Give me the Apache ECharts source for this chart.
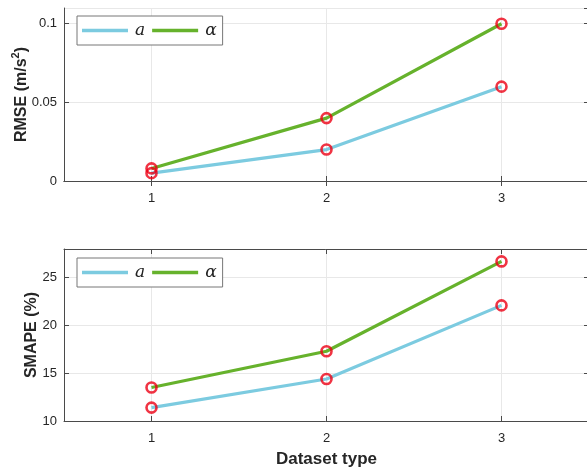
<!DOCTYPE html>
<html>
<head>
<meta charset="utf-8">
<script src="https://cdn.jsdelivr.net/npm/echarts@6/dist/echarts.min.js"></script>
<style>
  html, body { margin: 0; padding: 0; background: #fff; }
  #chart { width: 587px; height: 470px; }
</style>
</head>
<body>
<div id="chart"></div>
<script>
// Dataset types on the shared x axis
const datasetTypes = ['1', '2', '3'];

// RMSE per dataset type
const rmseA = [0.005, 0.02, 0.06];
const rmseAlpha = [0.008, 0.04, 0.1];

// SMAPE (%) per dataset type
const smapeA = [11.4, 14.4, 22.1];
const smapeAlpha = [13.5, 17.3, 26.7];

const colorA = '#7ccbe0';
const colorAlpha = '#66b22c';
const markerRed = '#ec0014';
const axisColor = '#4a4a4a';
const labelColor = '#262626';
const gridColor = '#e8e8e8';
const sansFont = '"Liberation Sans", Arial, sans-serif';

function xAxisFor(gridIndex, isMain) {
  return {
    type: 'category',
    gridIndex: gridIndex,
    data: datasetTypes,
    position: isMain ? 'bottom' : 'top',
    boundaryGap: true,
    axisLine: { show: true, lineStyle: { color: axisColor, width: 1 } },
    axisTick: { show: true, inside: true, length: 5, alignWithLabel: true, lineStyle: { color: axisColor } },
    axisLabel: { show: isMain, color: labelColor, fontFamily: sansFont, fontSize: 13, margin: 11 },
    splitLine: { show: isMain, alignWithLabel: true, lineStyle: { color: gridColor, width: 1 } }
  };
}

const titleRich = {
  b: { fontSize: 16, fontWeight: 'bold', color: labelColor, fontFamily: sansFont, verticalAlign: 'bottom', lineHeight: 20 },
  sup: { fontSize: 11, fontWeight: 'bold', color: labelColor, fontFamily: sansFont, verticalAlign: 'top', lineHeight: 20 }
};

function yAxisFor(gridIndex, isMain, min, max, interval, name, gap) {
  return {
    type: 'value',
    gridIndex: gridIndex,
    position: isMain ? 'left' : 'right',
    min: min, max: max, interval: interval,
    name: isMain ? name : '',
    nameLocation: 'middle',
    nameGap: gap,
    nameMoveOverlap: false,
    nameTextStyle: { color: labelColor, fontFamily: sansFont, fontSize: 16, fontWeight: 'bold', rich: titleRich },
    axisLine: { show: true, lineStyle: { color: axisColor, width: 1 } },
    axisTick: { show: true, inside: true, length: 5, lineStyle: { color: axisColor } },
    axisLabel: { show: isMain, color: labelColor, fontFamily: sansFont, fontSize: 13, margin: 7, showMaxLabel: false },
    splitLine: { show: isMain, lineStyle: { color: gridColor, width: 1 } }
  };
}

function lineSeries(name, axisIdx, values, color) {
  return {
    name: name, type: 'line', xAxisIndex: axisIdx, yAxisIndex: axisIdx,
    data: values, showSymbol: false, symbol: 'none',
    lineStyle: { color: color, width: 3.2 }, itemStyle: { color: color },
    z: 2, silent: true
  };
}

function markerSeries(axisIdx, values) {
  return {
    name: 'markers' + axisIdx + values[0], type: 'scatter', xAxisIndex: axisIdx, yAxisIndex: axisIdx,
    data: values, symbol: 'circle', symbolSize: 10,
    itemStyle: { color: 'rgba(0,0,0,0)', borderColor: markerRed, borderWidth: 2.6 },
    z: 3, silent: true
  };
}

function legendFor(top) {
  return {
    top: top, left: 77,
    data: [
      { name: 'a', icon: 'rect', itemStyle: { color: colorA } },
      { name: 'α', icon: 'rect', itemStyle: { color: colorAlpha } }
    ],
    itemWidth: 46, itemHeight: 3.4, itemGap: 7,
    padding: [6, 6, 6, 5],
    borderColor: '#777', borderWidth: 1, borderRadius: 0,
    backgroundColor: '#fff',
    textStyle: { fontFamily: '"DejaVu Serif", "Liberation Serif", serif', fontStyle: 'italic', fontSize: 17, color: '#222', padding: [0, 0, 0, 2] },
    selectedMode: false
  };
}

const chart = echarts.init(document.getElementById('chart'), null, { renderer: 'canvas' });
chart.setOption({
  backgroundColor: '#fff',
  animation: false,
  grid: [
    { left: 64, right: -2, top: 8, height: 173, containLabel: false, outerBoundsMode: 'none' },
    { left: 64, right: -2, top: 249, height: 172, containLabel: false, outerBoundsMode: 'none' }
  ],
  legend: [legendFor(16), legendFor(258)],
  xAxis: [
    xAxisFor(0, true),
    Object.assign(xAxisFor(1, true), {
      name: 'Dataset type', nameLocation: 'middle', nameGap: 30,
      nameTextStyle: { color: labelColor, fontFamily: sansFont, fontSize: 17, fontWeight: 'bold' }
    }),
    xAxisFor(0, false),
    xAxisFor(1, false)
  ],
  yAxis: [
    yAxisFor(0, true, 0, 0.11, 0.05, '{b|RMSE (m/s}{sup|2}{b|)}', 34),
    yAxisFor(1, true, 10, 28, 5, '{b|SMAPE (%)}', 24),
    yAxisFor(0, false, 0, 0.11, 0.05, '', 0),
    yAxisFor(1, false, 10, 28, 5, '', 0)
  ],
  series: [
    lineSeries('a', 0, rmseA, colorA),
    lineSeries('α', 0, rmseAlpha, colorAlpha),
    markerSeries(0, rmseA),
    markerSeries(0, rmseAlpha),
    lineSeries('a', 1, smapeA, colorA),
    lineSeries('α', 1, smapeAlpha, colorAlpha),
    markerSeries(1, smapeA),
    markerSeries(1, smapeAlpha)
  ]
});
</script>
</body>
</html>
